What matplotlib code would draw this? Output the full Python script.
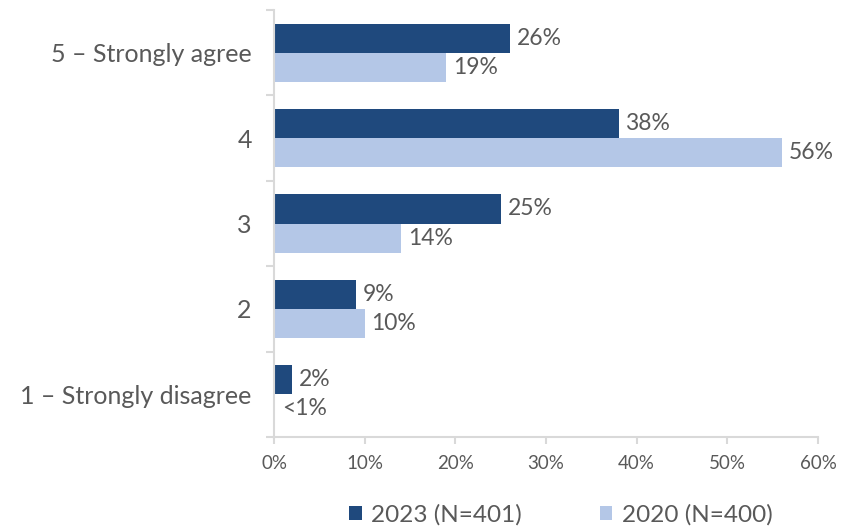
import matplotlib.pyplot as plt
import numpy as np

# data, top to bottom
categories = ["5 – Strongly agree", "4", "3", "2", "1 – Strongly disagree"]
vals_2023 = [26, 38, 25, 9, 2]
vals_2020 = [19, 56, 14, 10, 0.1]
labels_2023 = ["26%", "38%", "25%", "9%", "2%"]
labels_2020 = ["19%", "56%", "14%", "10%", "<1%"]
series_names = ["2023 (N=401)", "2020 (N=400)"]

dark = "#1F497D"
light = "#B4C7E7"
txt = "#595959"
grid = "#D9D9D9"

plt.rcParams['font.family'] = ['Lato', 'DejaVu Sans']

fig = plt.figure(figsize=(8.41, 5.28), dpi=100)
ax = fig.add_axes([274/841, 1 - 437/528, (818 - 274)/841, (437 - 10)/528])

n = len(categories)
y = np.arange(n)
h = 0.34
b1 = ax.barh(y - h/2, vals_2023, height=h, color=dark, label=series_names[0])
b2 = ax.barh(y + h/2, vals_2020, height=h, color=light, label=series_names[1])

for i in range(n):
    ax.text(vals_2023[i] + 0.75, y[i] - h/2, labels_2023[i], va='center', ha='left',
            fontsize=16.5, color=txt)
    ax.text(vals_2020[i] + 0.75, y[i] + h/2, labels_2020[i], va='center', ha='left',
            fontsize=16.5, color=txt)

ax.set_ylim(n - 0.5, -0.5)
ax.set_xlim(0, 60)
ax.set_xticks(np.arange(0, 61, 10))
ax.set_xticklabels([f"{v}%" for v in range(0, 61, 10)])

# category labels centred, ticks at the boundaries
ax.set_yticks(np.arange(-0.5, n, 1))
ax.set_yticklabels([])
ax.set_yticks(y, minor=True)
ax.set_yticklabels(categories, minor=True)
ax.tick_params(axis='y', which='minor', length=0, pad=16, labelsize=18, labelcolor=txt)
ax.tick_params(axis='y', which='major', length=6, color=grid, width=1.5)
ax.tick_params(axis='x', length=5, color=grid, width=1.5, labelsize=13.5, labelcolor=txt, pad=8)

for s in ['top', 'right']:
    ax.spines[s].set_visible(False)
for s in ['left', 'bottom']:
    ax.spines[s].set_color(grid)
    ax.spines[s].set_linewidth(1.5)

leg = fig.legend(handles=[b1, b2], loc='center', bbox_to_anchor=(561/841, 1 - 515/528),
                 ncol=2, frameon=False, fontsize=17.5, labelcolor=txt,
                 handlelength=0.5, handleheight=0.5, handletextpad=0.4, columnspacing=3.2)

fig.savefig("out.png", dpi=100)
